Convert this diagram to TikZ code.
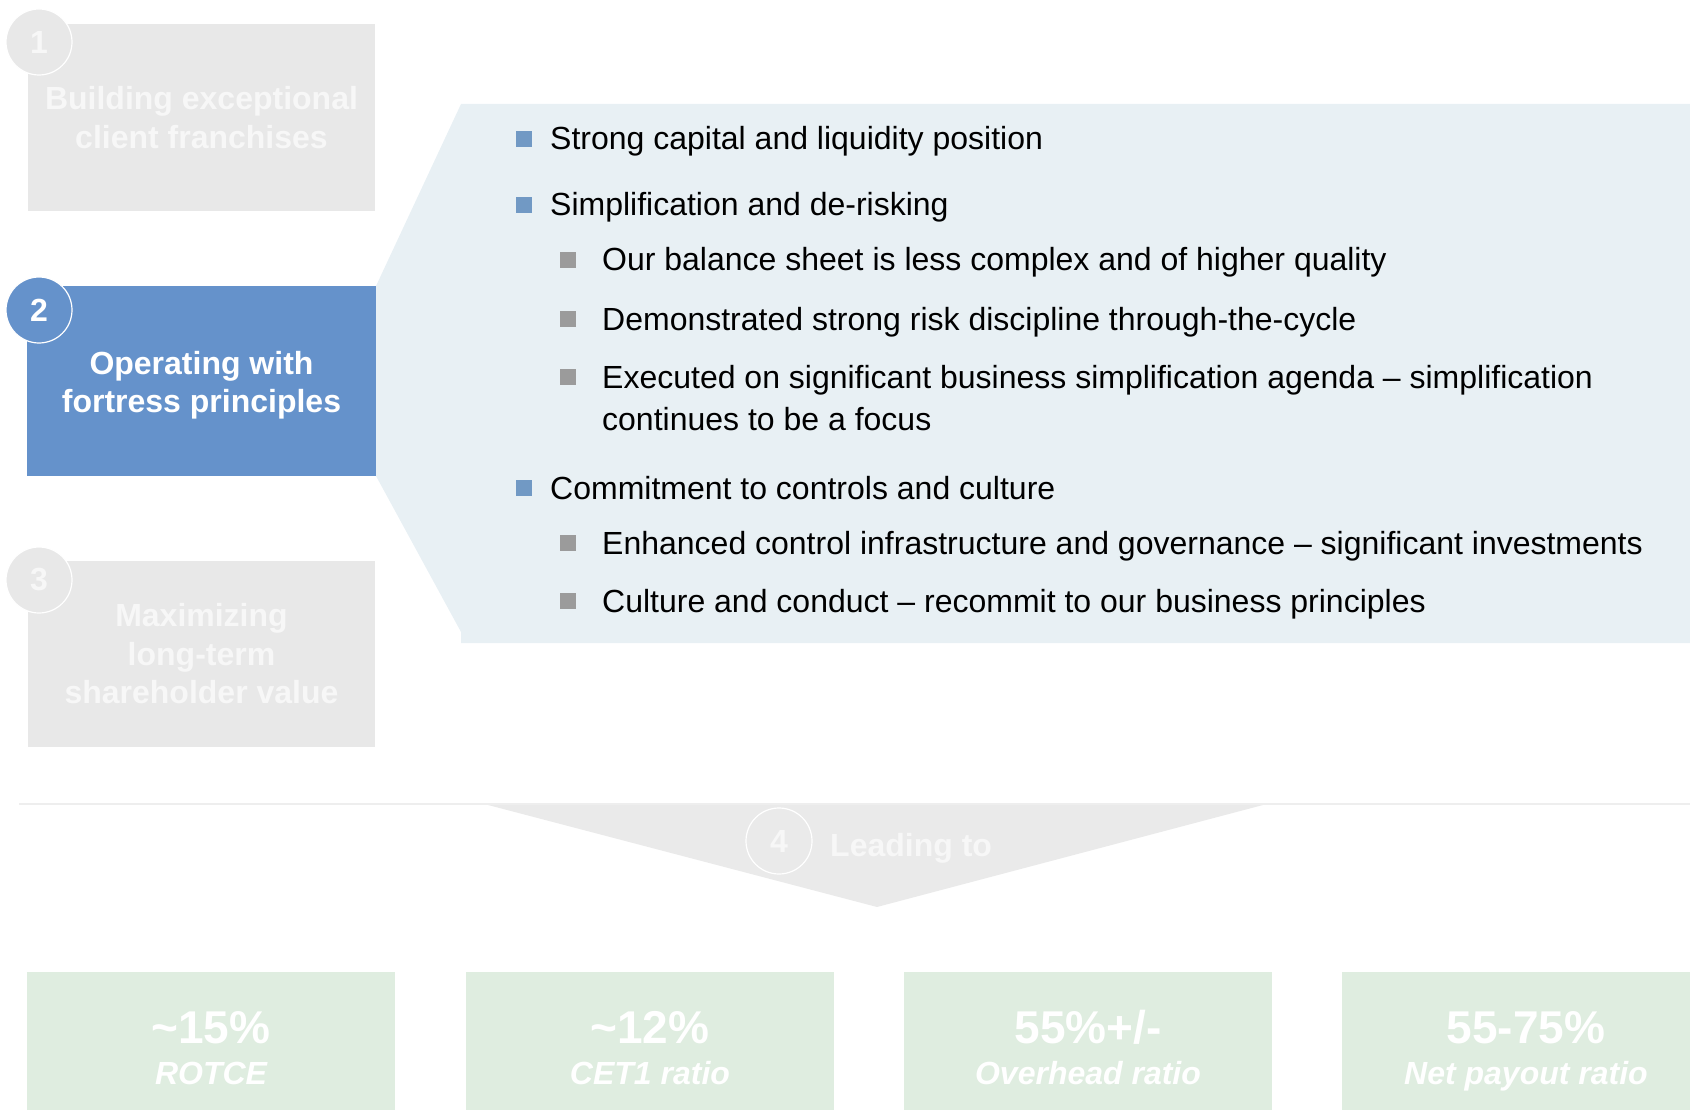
\documentclass[tikz,border=0pt]{standalone}
\usepackage{fontspec}
\setmainfont{Liberation Sans}
\definecolor{pillargray}{HTML}{E8E8E8}
\definecolor{fadedtext}{HTML}{F7F7F7}
\definecolor{pillarblue}{HTML}{6592CB}
\definecolor{panelblue}{HTML}{E8F0F4}
\definecolor{bulletblue}{HTML}{7199C4}
\definecolor{bulletgray}{HTML}{9B9B9B}
\definecolor{targetgreen}{HTML}{DFEDE0}
\definecolor{chevrongray}{HTML}{EAEAEA}
\definecolor{rulegray}{HTML}{EEEEEE}
\begin{document}
\begin{tikzpicture}[x=1pt,y=-1pt,
  pillar/.style={rectangle, inner sep=0pt, minimum width=347pt, minimum height=187pt,
    align=center, text=fadedtext, fill=pillargray,
    font=\fontsize{32}{38.5}\selectfont\bfseries},
  numdisc/.style={circle, inner sep=0pt, minimum size=66pt, draw=white, line width=1.2pt,
    text=fadedtext, font=\fontsize{32}{38}\selectfont\bfseries},
  bulA/.style={rectangle, inner sep=0pt, minimum size=16pt, fill=bulletblue},
  bulB/.style={rectangle, inner sep=0pt, minimum size=16pt, fill=bulletgray},
  itemtxt/.style={anchor=base west, inner sep=0pt, text=black,
    font=\fontsize{32}{38}\selectfont},
  target/.style={rectangle, inner sep=0pt, minimum width=368pt, minimum height=138pt,
    fill=targetgreen, anchor=north west},
  tval/.style={anchor=base, inner sep=0pt, text=white, font=\fontsize{46}{50}\selectfont\bfseries},
  tlab/.style={anchor=base, inner sep=0pt, text=white, font=\fontsize{32}{36}\selectfont\bfseries\itshape}
]
\useasboundingbox (0,0) rectangle (1690,1110);

% detail panel behind the active pillar
\fill[panelblue] (461,104) -- (1690,104) -- (1690,643) -- (461,643) -- (461,632)
  -- (376,476) -- (376,286) -- cycle;

% the three pillars
\node[pillar] (p1) at (201.5,117.5) {Building exceptional\\client franchises};
\node[pillar, fill=pillarblue, minimum width=349pt, minimum height=190pt]
  (p2) at (201.5,381) {};
\node[align=center, inner sep=0pt, text=white, font=\fontsize{32}{38.5}\selectfont\bfseries]
  (p2text) at (201.5,385) {Operating with\\fortress principles};
\node[pillar, minimum height=186pt] (p3) at (201.5,654) {Maximizing\\long-term\\shareholder value};

\node[numdisc, fill=pillargray] (n1) at (39,42) {1};
\node[numdisc, fill=pillarblue, text=white] (n2) at (39,310) {2};
\node[numdisc, fill=pillargray] (n3) at (39,580) {3};

% bullet list
\node[bulA] (b1) at (524,139) {};
\node[itemtxt] (t1) at (550,150) {Strong capital and liquidity position};
\node[bulA] (b2) at (524,205) {};
\node[itemtxt] (t2) at (550,216) {Simplification and de-risking};
\node[bulB] (b21) at (568,260) {};
\node[itemtxt] (t21) at (602,271) {Our balance sheet is less complex and of higher quality};
\node[bulB] (b22) at (568,319) {};
\node[itemtxt] (t22) at (602,330) {Demonstrated strong risk discipline through-the-cycle};
\node[bulB] (b23) at (568,377) {};
\node[itemtxt] (t23) at (602,388) {Executed on significant business simplification agenda -- simplification};
\node[itemtxt] (t23b) at (602,430) {continues to be a focus};
\node[bulA] (b3) at (524,488) {};
\node[itemtxt] (t3) at (550,499) {Commitment to controls and culture};
\node[bulB] (b31) at (568,543) {};
\node[itemtxt] (t31) at (602,554) {Enhanced control infrastructure and governance -- significant investments};
\node[bulB] (b32) at (568,601) {};
\node[itemtxt] (t32) at (602,612) {Culture and conduct -- recommit to our business principles};

% divider and "leading to" chevron
\coordinate (ruleL) at (19,804);
\coordinate (ruleR) at (1690,804);
\draw[rulegray, line width=2pt] (ruleL) -- (ruleR);
\fill[chevrongray] (488,805) -- (1263,805) -- (877,907) -- cycle;
\node[numdisc, fill=chevrongray] (n4) at (779,841) {4};
\node[anchor=base west, inner sep=0pt, text=fadedtext, font=\fontsize{32}{38}\selectfont\bfseries]
  (lead) at (830,856) {Leading to};

% financial targets
\node[target] (g1) at (27,972) {};
\node[target] (g2) at (466,972) {};
\node[target] (g3) at (904,972) {};
\node[target] (g4) at (1342,972) {};
\node[tval] (v1) at (211,1043) {\textasciitilde15\%};
\node[tlab] (l1) at (211,1084) {ROTCE};
\node[tval] (v2) at (650,1043) {\textasciitilde12\%};
\node[tlab] (l2) at (650,1084) {CET1 ratio};
\node[tval] (v3) at (1088,1043) {55\%+/-};
\node[tlab] (l3) at (1088,1084) {Overhead ratio};
\node[tval] (v4) at (1526,1043) {55-75\%};
\node[tlab] (l4) at (1526,1084) {Net payout ratio};
\end{tikzpicture}
\end{document}
